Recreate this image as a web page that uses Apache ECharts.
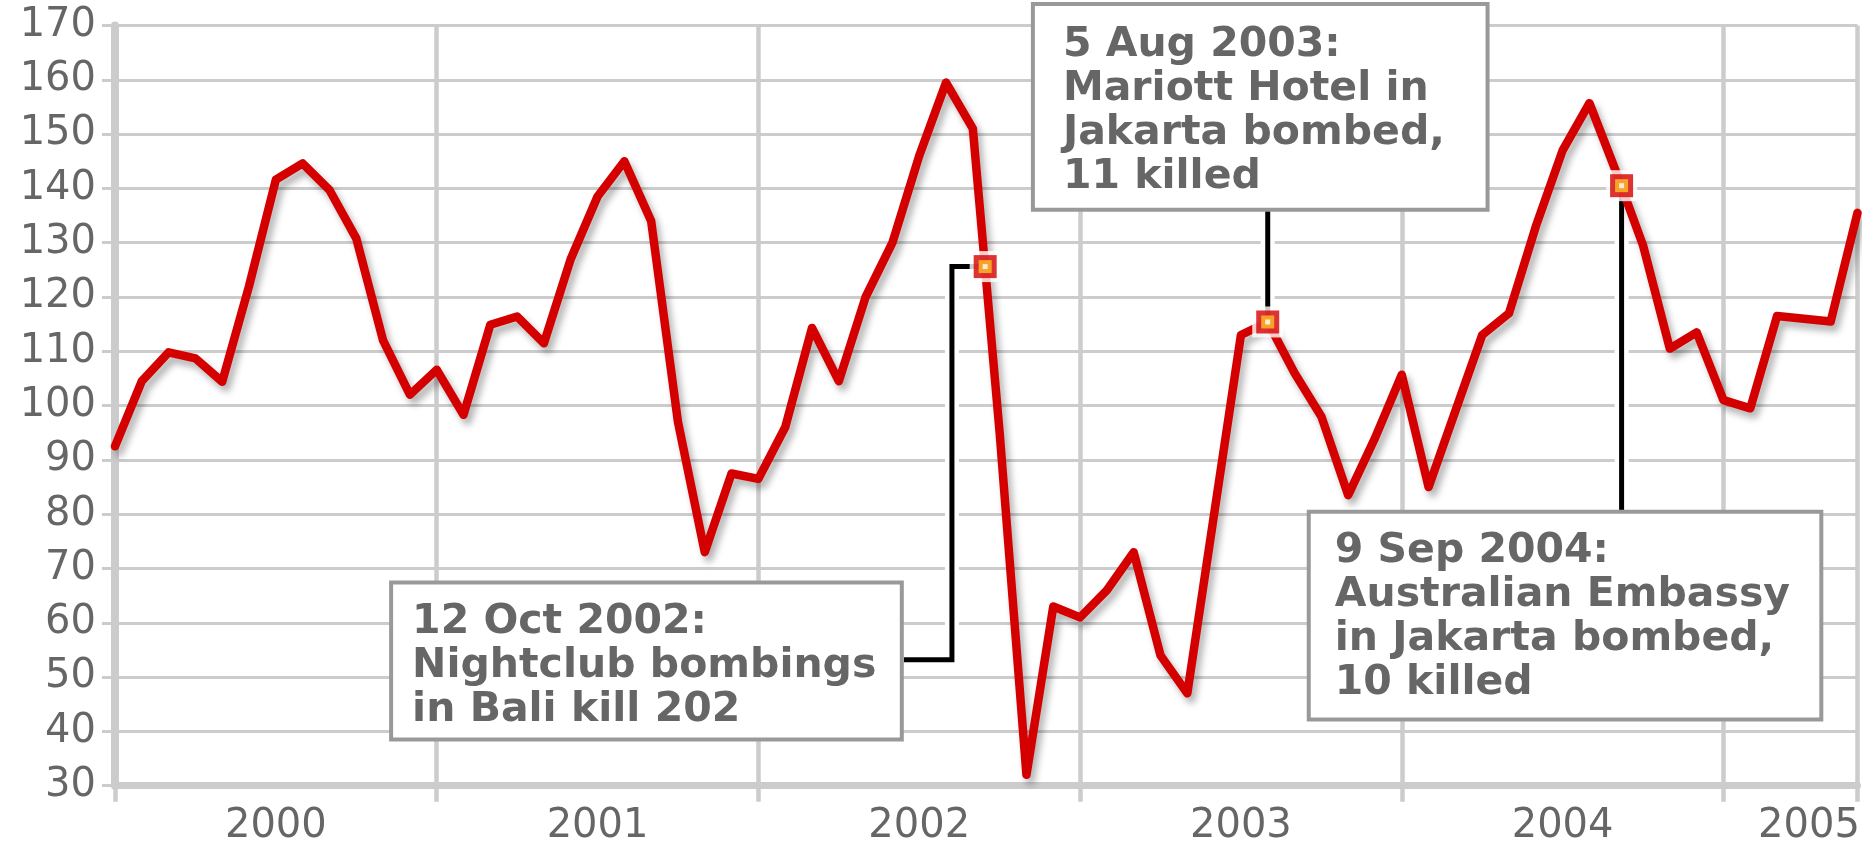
<!DOCTYPE html>
<html><head><meta charset="utf-8">
<script src="https://cdn.jsdelivr.net/npm/echarts@6/dist/echarts.min.js"></script>
<style>html,body{margin:0;padding:0;background:#fff}#c{width:1864px;height:849px}</style>
</head><body><div id="c"></div>
<script>
// ---- data ----
const yearLabels = ['2000', '2001', '2002', '2003', '2004', '2005'];
// monthly index values, Jan 2000 .. Jun 2005
const values2000 = [92.5, 104.5, 109.8, 108.7, 104.4, 122, 141.6, 144.6, 139.7, 130.8, 112, 102];
const values2001 = [106.6, 98.3, 114.9, 116.4, 111.5, 127, 138.5, 145, 134, 97, 73, 87.5];
const values2002 = [86.5, 96, 114.3, 104.5, 120, 130, 146, 159.5, 151, 95, 32, 63];
const values2003 = [61, 66, 73, 54, 47, 80, 113, 115.4, 106, 98, 83.5, 94];
const values2004 = [105.7, 85, 99, 113, 117, 133, 147, 155.7, 143, 129.5, 110.5, 113.5];
const values2005 = [101, 99.5, 116.5, 116, 115.5, 135.5];
const yTickMin = 30, yTickMax = 170, yTickStep = 10;

// events (x in months since Jan 2000, y in index units)
const eventTexts = [
  '12 Oct 2002:\nNightclub bombings\nin Bali kill 202',
  '5 Aug 2003:\nMariott Hotel in\nJakarta bombed,\n11 killed',
  '9 Sep 2004:\nAustralian Embassy\nin Jakarta bombed,\n10 killed'
];
const eventMonth = [32.46, 43.0, 56.2];
const eventValue = [125.6, 115.4, 140.5];
const leaderPaths = [
  [[32.46, 125.6], [31.22, 125.6], [31.22, 53.2], [29.43, 53.2]],
  [[43.0, 115.4], [43.0, 136.0]],
  [[56.2, 140.5], [56.2, 80.5]]
];
// annotation boxes: [x0, yTop, x1, yBottom] in axis units
const boxCorners = [
  [10.30, 67.41, 29.35, 38.52],
  [34.24, 173.96, 51.2, 136.05],
  [44.53, 80.47, 63.65, 42.19]
];

// ---- layout / style ----
const textPad = [[21, 18], [30, 19], [26, 18]];
const allValues = [].concat(values2000, values2001, values2002, values2003, values2004, values2005);
const xMax = allValues.length - 1;
const lineData = allValues.map((v, i) => [i, v]);
const eventData = eventMonth.map((m, i) => [m, eventValue[i]]);
const grid = '#cccccc';
const labelFont = { fontFamily: 'DejaVu Sans', fontSize: 40, color: '#666666' };

const chart = echarts.init(document.getElementById('c'), null, { renderer: 'canvas' });

const option = {
  animation: false,
  backgroundColor: '#ffffff',
  grid: { left: 115, right: 6.5, top: 25.5, bottom: 63.3, containLabel: false },
  xAxis: [
    {
      type: 'value', min: 0, max: xMax, interval: 12, position: 'bottom',
      axisLine: { show: true, lineStyle: { color: grid, width: 7 } },
      axisTick: { show: true, length: 16, lineStyle: { color: grid, width: 4.5 } },
      splitLine: { show: true, lineStyle: { color: grid, width: 4.5 } },
      axisLabel: { show: false }
    },
    {
      type: 'value', min: 0, max: xMax, interval: 6, position: 'bottom',
      axisLine: { show: false }, axisTick: { show: false }, splitLine: { show: false },
      axisLabel: Object.assign({
        show: true, margin: 21, showMinLabel: true, showMaxLabel: true,
        formatter: function (v) {
          if (v === xMax) return '{r|' + yearLabels[yearLabels.length - 1] + '}';
          if (v % 12 === 6) return yearLabels[(v - 6) / 12];
          return '';
        },
        rich: { r: Object.assign({ padding: [0, 97, 0, 0] }, labelFont) }
      }, labelFont)
    }
  ],
  yAxis: {
    type: 'value', min: yTickMin, max: yTickMax, interval: yTickStep,
    axisLine: { show: true, lineStyle: { color: grid, width: 8 } },
    axisTick: { show: true, length: 13, lineStyle: { color: grid, width: 3 } },
    splitLine: { show: true, lineStyle: { color: grid, width: 3 } },
    axisLabel: Object.assign({ margin: 19 }, labelFont)
  },
  series: [].concat(
    leaderPaths.map(p => ({
      type: 'line', data: p, symbol: 'none', silent: true, z: 2,
      lineStyle: { color: '#ffffff', width: 14, cap: 'butt' }
    })),
    leaderPaths.map(p => ({
      type: 'line', data: p, symbol: 'none', silent: true, z: 3,
      lineStyle: { color: '#000000', width: 5, cap: 'butt', join: 'miter' }
    })),
    [{
      type: 'line', data: lineData, symbol: 'none', z: 4,
      lineStyle: {
        color: '#d40000', width: 8.5, join: 'round', cap: 'round',
        shadowColor: 'rgba(0,0,0,0.3)', shadowBlur: 7, shadowOffsetX: 4, shadowOffsetY: 6
      }
    },
    { type: 'scatter', data: eventData, symbol: 'rect', symbolSize: 31, z: 5, itemStyle: { color: '#ffffff' } },
    { type: 'scatter', data: eventData, symbol: 'rect', symbolSize: 23, z: 6, itemStyle: { color: '#d40000' } },
    { type: 'scatter', data: eventData, symbol: 'rect', symbolSize: 13, z: 7, itemStyle: { color: '#ffc125' } },
    { type: 'scatter', data: eventData, symbol: 'rect', symbolSize: 5, z: 8, itemStyle: { color: '#ffffff' } }]
  )
};
chart.setOption(option);

const gfx = [];
boxCorners.forEach((b, k) => {
  const p0 = chart.convertToPixel({ xAxisIndex: 0, yAxisIndex: 0 }, [b[0], b[1]]);
  const p1 = chart.convertToPixel({ xAxisIndex: 0, yAxisIndex: 0 }, [b[2], b[3]]);
  gfx.push({
    type: 'rect', z: 100,
    shape: { x: p0[0], y: p0[1], width: p1[0] - p0[0], height: p1[1] - p0[1] },
    style: { fill: '#ffffff', stroke: '#999999', lineWidth: 4 }
  });
  gfx.push({
    type: 'text', z: 101, x: p0[0] + textPad[k][0], y: p0[1] + textPad[k][1],
    style: { text: eventTexts[k], font: 'bold 41px "DejaVu Sans"', fill: '#666666', lineHeight: 44, verticalAlign: 'top', align: 'left' }
  });
});
chart.setOption({ graphic: gfx });
</script>
</body></html>
